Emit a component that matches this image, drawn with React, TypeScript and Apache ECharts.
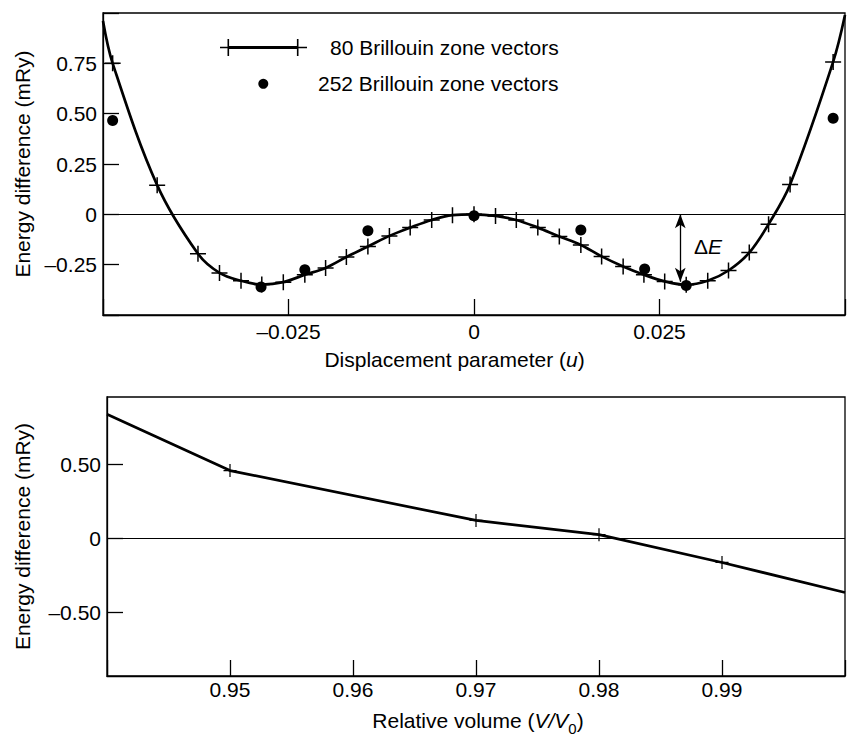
import React, { useEffect, useRef } from 'react';
import * as echarts from 'echarts';

const FONT = "'Liberation Sans', Arial, Helvetica, sans-serif";
const FS = 21;

// Top panel: energy vs displacement parameter u
const dispU80 = [
  -0.05, -0.0487, -0.0427, -0.0372, -0.0343, -0.0314, -0.0286, -0.0257, -0.0228, -0.02,
  -0.0172, -0.0143, -0.0114, -0.0086, -0.0057, -0.0029, 0, 0.0029, 0.0057, 0.0086,
  0.0115, 0.0144, 0.0172, 0.0201, 0.0229, 0.0257, 0.0286, 0.0315, 0.0343, 0.0371,
  0.0397, 0.0426, 0.0484, 0.05,
];
const energy80 = [
  0.96, 0.75, 0.145, -0.196, -0.291, -0.33, -0.349, -0.337, -0.3, -0.266,
  -0.212, -0.16, -0.107, -0.066, -0.028, -0.004, 0, -0.008, -0.028, -0.066,
  -0.11, -0.152, -0.209, -0.259, -0.3, -0.333, -0.35, -0.33, -0.279, -0.19,
  -0.049, 0.148, 0.757, 0.99,
];
// curve-only end points (no cross drawn)
const curveOnlyIdx = [0, 33];

const dispU252 = [-0.0487, -0.0287, -0.0228, -0.0143, 0, 0.0144, 0.023, 0.0286, 0.0484];
const energy252 = [0.466, -0.361, -0.275, -0.081, -0.007, -0.078, -0.272, -0.354, 0.477];

const deltaEAt = 0.0278;
const deltaEFrom = 0;
const deltaETo = -0.335;

// Bottom panel: energy vs relative volume
const relVolume = [0.94, 0.95, 0.97, 0.98, 0.99, 1.0];
const energyVol = [0.839, 0.458, 0.121, 0.025, -0.163, -0.366];
const volCurveOnlyIdx = [0, 5];
const bottomYTicks = [-0.5, 0, 0.5];

const seriesNames = ['80 Brillouin zone vectors', '252 Brillouin zone vectors'];

const PLUS = 'path://M-0.75,-8h1.5v16h-1.5z M-8,-0.75h16v1.5h-16z';
const LEGEND_LINE =
  'path://M7.5,0h1.6v17h-1.6z M0,7.75h16.6v1.5h-16.6z M76.9,0h1.6v17h-1.6z M70.4,7.75h16.6v1.5h-16.6z M8.3,7h69.4v3h-69.4z';

const near = (a: number, b: number) => Math.abs(a - b) < 1e-9;
const fmt = (v: number, d: number) =>
  near(v, 0) ? '0' : (v < 0 ? '\u2013' : '') + Math.abs(v).toFixed(d);

const axisCommon = {
  axisLine: { show: true, onZero: false, lineStyle: { color: '#000', width: 1.3 } },
  axisTick: { show: true, inside: true, length: 16, lineStyle: { color: '#000', width: 1.3 } },
  splitLine: { show: false },
};
const labelFont = { color: '#000', fontSize: FS, fontFamily: FONT };

export default function App() {
  const ref = useRef<HTMLDivElement>(null);
  useEffect(() => {
    if (!ref.current) return;
    const chart = echarts.init(ref.current, undefined, { renderer: 'svg' });

    const topData = dispU80.map((x, i) =>
      curveOnlyIdx.includes(i) ? { value: [x, energy80[i]], symbol: 'none' } : { value: [x, energy80[i]] }
    );
    const dotData = dispU252.map((x, i) => [x, energy252[i]]);
    const volData = relVolume.map((x, i) =>
      volCurveOnlyIdx.includes(i) ? { value: [x, energyVol[i]], symbol: 'none' } : { value: [x, energyVol[i]] }
    );

    const zeroLine = {
      silent: true,
      symbol: 'none',
      label: { show: false },
      emphasis: { disabled: true },
      lineStyle: { color: '#000', width: 1.2, type: 'solid' },
      data: [{ yAxis: 0 }],
    };

    chart.setOption({
      animation: false,
      backgroundColor: '#fff',
      textStyle: { fontFamily: FONT },
      grid: [
        { left: 103, top: 13, width: 748, height: 302, show: true, borderColor: '#000', borderWidth: 1.3, backgroundColor: 'transparent' },
        { left: 107, top: 397, width: 749, height: 281, show: true, borderColor: '#000', borderWidth: 1.3, backgroundColor: 'transparent' },
      ],
      legend: [
        {
          data: [{ name: seriesNames[0], icon: LEGEND_LINE }],
          left: 220, top: 37, padding: 0,
          itemWidth: 87, itemHeight: 17,
          selectedMode: false,
          textStyle: { ...labelFont, padding: [0, 0, 0, 18] },
        },
        {
          data: [{ name: seriesNames[1], icon: 'circle' }],
          left: 258.3, top: 73.3, padding: 0,
          itemWidth: 10, itemHeight: 10,
          selectedMode: false,
          textStyle: { ...labelFont, padding: [0, 0, 0, 44.7] },
        },
      ],
      xAxis: [
        {
          type: 'value', gridIndex: 0, min: -0.05, max: 0.05, interval: 0.025,
          ...axisCommon,
          axisLabel: {
            ...labelFont, margin: 6,
            formatter: (v: number) => (near(Math.abs(v), 0.05) ? '' : fmt(v, 3)),
          },
          name: '{n|Displacement parameter (}{i|u}{n|)}',
          nameLocation: 'middle', nameGap: 34,
          nameTextStyle: {
            ...labelFont, padding: [0, 39, 0, 0],
            rich: { n: { ...labelFont }, i: { ...labelFont, fontStyle: 'italic' } },
          },
        },
        {
          type: 'value', gridIndex: 1, min: 0.94, max: 1.0, interval: 0.01,
          ...axisCommon,
          axisLabel: {
            ...labelFont, margin: 3,
            formatter: (v: number) => (near(v, 0.94) || near(v, 1.0) ? '' : v.toFixed(2)),
          },
          name: '{n|Relative volume (}{i|V/V}{s|0}{n|)}',
          nameLocation: 'middle', nameGap: 29,
          nameTextStyle: {
            ...labelFont, padding: [0, 0, 0, 4],
            rich: {
              n: { ...labelFont, lineHeight: 31 },
              i: { ...labelFont, fontStyle: 'italic', lineHeight: 31 },
              s: { ...labelFont, fontSize: 15, verticalAlign: 'bottom' },
            },
          },
        },
      ],
      yAxis: [
        {
          type: 'value', gridIndex: 0, min: -0.5, max: 1.0, interval: 0.25,
          ...axisCommon,
          axisLabel: {
            ...labelFont, margin: 6,
            formatter: (v: number) => (near(v, -0.5) || near(v, 1.0) ? '' : fmt(v, 2)),
          },
          name: 'Energy difference (mRy)',
          nameLocation: 'middle', nameRotate: 90, nameGap: 70,
          nameTextStyle: { ...labelFont },
        },
        {
          type: 'value', gridIndex: 1, min: -0.93, max: 0.955,
          ...axisCommon,
          axisTick: { ...axisCommon.axisTick, customValues: bottomYTicks },
          axisLabel: {
            ...labelFont, margin: 6, customValues: bottomYTicks,
            formatter: (v: number) => fmt(v, 2),
          },
          name: 'Energy difference (mRy)',
          nameLocation: 'middle', nameRotate: 90, nameGap: 74,
          nameTextStyle: { ...labelFont },
        },
      ],
      series: [
        {
          name: seriesNames[0],
          type: 'line', xAxisIndex: 0, yAxisIndex: 0,
          data: topData,
          smooth: 0.35,
          symbol: PLUS, symbolSize: 16,
          itemStyle: { color: '#000', borderWidth: 0 },
          lineStyle: { color: '#000', width: 2.7 },
          emphasis: { disabled: true },
          markLine: zeroLine,
          z: 3,
        },
        {
          name: seriesNames[1],
          type: 'scatter', xAxisIndex: 0, yAxisIndex: 0,
          data: dotData,
          symbol: 'circle', symbolSize: 11,
          itemStyle: { color: '#000', opacity: 1 },
          emphasis: { disabled: true },
          markLine: {
            silent: true,
            symbol: ['arrow', 'arrow'],
            symbolSize: [8, 14],
            label: { show: false },
            emphasis: { disabled: true },
            lineStyle: { color: '#000', width: 1.3, type: 'solid' },
            data: [[{ coord: [deltaEAt, deltaEFrom] }, { coord: [deltaEAt, deltaETo] }]],
          },
          z: 4,
        },
        {
          name: 'volume',
          type: 'line', xAxisIndex: 1, yAxisIndex: 1,
          data: volData,
          symbol: PLUS, symbolSize: 13,
          itemStyle: { color: '#000', borderWidth: 0 },
          lineStyle: { color: '#000', width: 2.7 },
          emphasis: { disabled: true },
          markLine: zeroLine,
          z: 3,
        },
      ],
      graphic: [
        {
          type: 'text', left: 694, top: 236,
          style: {
            text: '{a|\u0394}{b|E}',
            rich: {
              a: { fontSize: FS, fontFamily: FONT, fill: '#000' },
              b: { fontSize: FS, fontFamily: FONT, fill: '#000', fontStyle: 'italic' },
            },
          },
        },
      ],
    });
    return () => chart.dispose();
  }, []);
  return <div ref={ref} style={{ position: 'absolute', left: 0, top: 0, width: 848, height: 737 }} />;
}
